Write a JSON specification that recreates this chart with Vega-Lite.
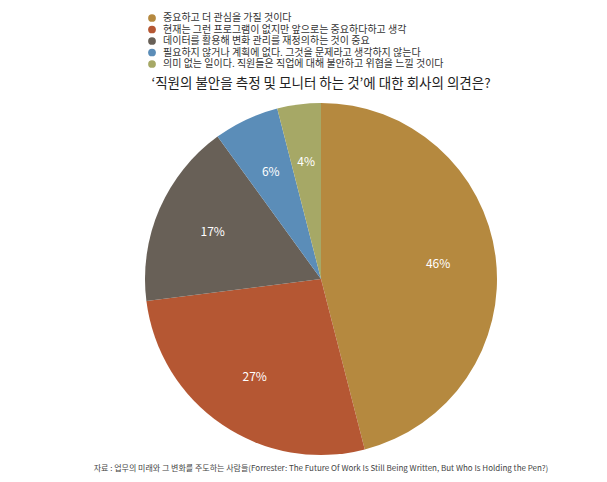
{
  "$schema": "https://vega.github.io/schema/vega-lite/v6.json",
  "background": "white",
  "padding": {"left": 93, "top": 13, "right": 10, "bottom": 5},
  "config": {"view": {"stroke": null}, "font": "Noto Sans CJK KR"},
  "title": {"text": "자료 : 업무의 미래와 그 변화를 주도하는 사람들(Forrester: The Future Of Work Is Still Being Written, But Who Is Holding the Pen?)", "orient": "bottom", "anchor": "middle", "fontSize": 8, "fontWeight": "normal", "color": "#444", "offset": 10, "font": "Noto Sans CJK KR"},
  "vconcat": [
    {
      "width": 352,
      "height": 352,
      "title": {"text": "‘직원의 불안을 측정 및 모니터 하는 것’에 대한 회사의 의견은?", "anchor": "middle", "fontSize": 13.5, "fontWeight": "normal", "color": "#222", "offset": 13, "font": "Noto Sans CJK KR"},
      "data": {"values": [
        {"idx": 1, "label": "중요하고 더 관심을 가질 것이다", "value": 46, "pct": "46%"},
        {"idx": 2, "label": "현재는 그런 프로그램이 없지만 앞으로는 중요하다하고 생각", "value": 27, "pct": "27%"},
        {"idx": 3, "label": "데이터를 활용해 변화 관리를 재정의하는 것이 중요", "value": 17, "pct": "17%"},
        {"idx": 4, "label": "필요하지 않거나 계획에 없다. 그것을 문제라고 생각하지 않는다", "value": 6, "pct": "6%"},
        {"idx": 5, "label": "의미 없는 일이다. 직원들은 직업에 대해 불안하고 위협을 느낄 것이다", "value": 4, "pct": "4%"}
      ]},
      "encoding": {
        "theta": {"field": "value", "type": "quantitative", "stack": true},
        "order": {"field": "idx", "type": "ordinal"}
      },
      "layer": [
        {
          "mark": {"type": "arc"},
          "encoding": {
            "color": {
              "field": "label", "type": "nominal",
              "sort": ["중요하고 더 관심을 가질 것이다", "현재는 그런 프로그램이 없지만 앞으로는 중요하다하고 생각", "데이터를 활용해 변화 관리를 재정의하는 것이 중요", "필요하지 않거나 계획에 없다. 그것을 문제라고 생각하지 않는다", "의미 없는 일이다. 직원들은 직업에 대해 불안하고 위협을 느낄 것이다"],
              "scale": {"range": ["#B5893F", "#B55733", "#686057", "#5B8DB8", "#A6A866"]},
              "legend": {"orient": "none", "legendX": 2, "legendY": -90, "title": null, "symbolType": "circle", "symbolSize": 60, "labelFontSize": 10, "labelColor": "#333", "labelLimit": 500, "rowPadding": 1.5, "padding": 0, "labelOffset": 6, "labelFont": "Noto Sans CJK KR"}
            }
          }
        },
        {
          "mark": {"type": "text", "radius": 118, "fontSize": 12, "color": "white", "font": "Noto Sans CJK KR"},
          "encoding": {"text": {"field": "pct"}}
        }
      ]
    }
  ]
}
